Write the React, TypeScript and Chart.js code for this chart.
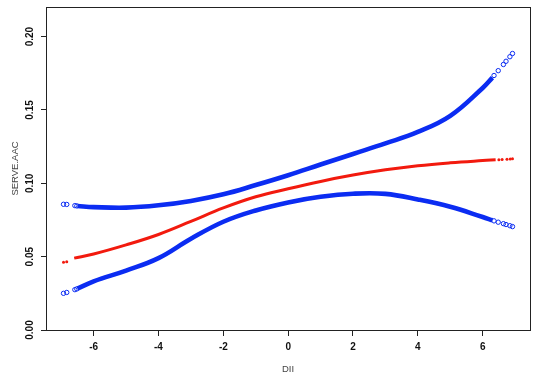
import React, { useEffect, useRef } from "react";
import { Chart, registerables } from "chart.js";

Chart.register(...registerables);

// x positions of the fitted curves (DII)
const upperX = [-6.5, -6, -5, -4, -3, -2, -1, 0, 1, 2, 3, 4, 5, 6, 6.3];
const upperY = [0.0845, 0.0838, 0.0834, 0.085, 0.088, 0.0925, 0.0988, 0.1055, 0.1128, 0.12, 0.1272, 0.135, 0.146, 0.165, 0.172];
const lowerX = [-6.5, -6, -5, -4, -3, -2, -1, 0, 1, 2, 3, 4, 5, 6, 6.3];
const lowerY = [0.0282, 0.0332, 0.0405, 0.049, 0.0622, 0.0738, 0.0815, 0.087, 0.0908, 0.0929, 0.0928, 0.089, 0.084, 0.077, 0.0748];
const fitX = [-6.6, -6, -5, -4, -3, -2, -1, 0, 1, 2, 3, 4, 5, 6, 6.4];
const fitY = [0.049, 0.0518, 0.058, 0.0651, 0.074, 0.0832, 0.0908, 0.0963, 0.1013, 0.1056, 0.1092, 0.112, 0.114, 0.1155, 0.116];

// sparse observations at the extremes
const upperEndX = [-6.93, -6.83, -6.58, -6.52, 6.35, 6.48, 6.64, 6.72, 6.84, 6.92];
const upperEndY = [0.0857, 0.0856, 0.0848, 0.0846, 0.1735, 0.1768, 0.181, 0.1832, 0.1863, 0.1885];
const lowerEndX = [-6.93, -6.83, -6.58, -6.52, 6.35, 6.48, 6.64, 6.72, 6.84, 6.92];
const lowerEndY = [0.025, 0.0256, 0.0275, 0.028, 0.0744, 0.0735, 0.0725, 0.0719, 0.0711, 0.0705];
const fitEndX = [-6.93, -6.83, 6.5, 6.6, 6.75, 6.85, 6.92];
const fitEndY = [0.0462, 0.0466, 0.1161, 0.1162, 0.1164, 0.1166, 0.1167];

const xTicks = [-6, -4, -2, 0, 2, 4, 6];
const yTicks = [0, 0.05, 0.1, 0.15, 0.2];
const xTitle = "DII";
const yTitle = "SERVE.AAC";

const BLUE = "#0b2cf2";
const RED = "#f21a0e";

const pts = (xs: number[], ys: number[]) => xs.map((x, i) => ({ x, y: ys[i] }));

const boxPlugin = {
  id: "rbox",
  afterDraw(chart: any) {
    const { ctx, chartArea } = chart;
    ctx.save();
    ctx.strokeStyle = "#222";
    ctx.lineWidth = 1;
    ctx.strokeRect(
      Math.round(chartArea.left) + 0.5,
      Math.round(chartArea.top) + 0.5,
      Math.round(chartArea.right - chartArea.left),
      Math.round(chartArea.bottom - chartArea.top)
    );
    ctx.restore();
  },
};

export default function App() {
  const ref = useRef<HTMLCanvasElement | null>(null);
  useEffect(() => {
    if (!ref.current) return;
    const tickFont = { family: "'Liberation Sans', Arial, sans-serif", size: 10, weight: "bold" as const };
    const titleFont = { family: "'Liberation Sans', Arial, sans-serif", size: 9.5 };
    const curve = (xs: number[], ys: number[], color: string, w: number) => ({
      data: pts(xs, ys),
      borderColor: color,
      borderWidth: w,
      pointRadius: 0,
      tension: 0.4,
      fill: false,
    });
    const chart = new Chart(ref.current, {
      type: "line",
      data: {
        datasets: [
          curve(upperX, upperY, BLUE, 4.6),
          curve(lowerX, lowerY, BLUE, 4.6),
          curve(fitX, fitY, RED, 3),
          {
            data: pts(upperEndX, upperEndY),
            showLine: false,
            pointRadius: 2.2,
            pointBorderWidth: 1,
            pointBorderColor: BLUE,
            pointBackgroundColor: "rgba(0,0,0,0)",
          },
          {
            data: pts(lowerEndX, lowerEndY),
            showLine: false,
            pointRadius: 2.2,
            pointBorderWidth: 1,
            pointBorderColor: BLUE,
            pointBackgroundColor: "rgba(0,0,0,0)",
          },
          {
            data: pts(fitEndX, fitEndY),
            showLine: false,
            pointRadius: 1.5,
            pointBorderWidth: 0,
            pointBackgroundColor: RED,
            pointBorderColor: RED,
          },
        ],
      },
      options: {
        animation: false,
        responsive: false,
        maintainAspectRatio: false,
        layout: { padding: { top: 3, right: 6, bottom: 0, left: 0 } },
        plugins: { legend: { display: false }, tooltip: { enabled: false } },
        scales: {
          x: {
            type: "linear",
            min: -7.47,
            max: 7.46,
            afterBuildTicks: (s: any) => {
              s.ticks = xTicks.map((v) => ({ value: v }));
            },
            afterFit: (s: any) => {
              s.height = 46;
            },
            grid: { drawOnChartArea: false, drawTicks: true, tickLength: 6, color: "#222" },
            border: { display: false },
            ticks: { color: "#111", font: tickFont, padding: 5, maxRotation: 0 },
            title: { display: true, text: xTitle, color: "#444", font: titleFont, padding: { top: 0, bottom: 1 } },
          },
          y: {
            type: "linear",
            min: 0,
            max: 0.2202,
            afterBuildTicks: (s: any) => {
              s.ticks = yTicks.map((v) => ({ value: v }));
            },
            afterFit: (s: any) => {
              s.width = 46;
            },
            grid: { drawOnChartArea: false, drawTicks: true, tickLength: 5, color: "#222" },
            border: { display: false },
            ticks: {
              color: "#111",
              font: tickFont,
              padding: 1,
              minRotation: 90,
              maxRotation: 90,
              crossAlign: "center",
              callback: (v: any) => Number(v).toFixed(2),
            },
            title: { display: true, text: yTitle, color: "#444", font: titleFont, padding: { top: 9.5, bottom: 0 } },
          },
        },
      },
      plugins: [boxPlugin],
    });
    return () => chart.destroy();
  }, []);
  return (
    <div style={{ position: "fixed", left: 0, top: 0, width: 536, height: 376, background: "#fff" }}>
      <canvas ref={ref} width={536} height={376} style={{ width: 536, height: 376, display: "block" }} />
    </div>
  );
}
